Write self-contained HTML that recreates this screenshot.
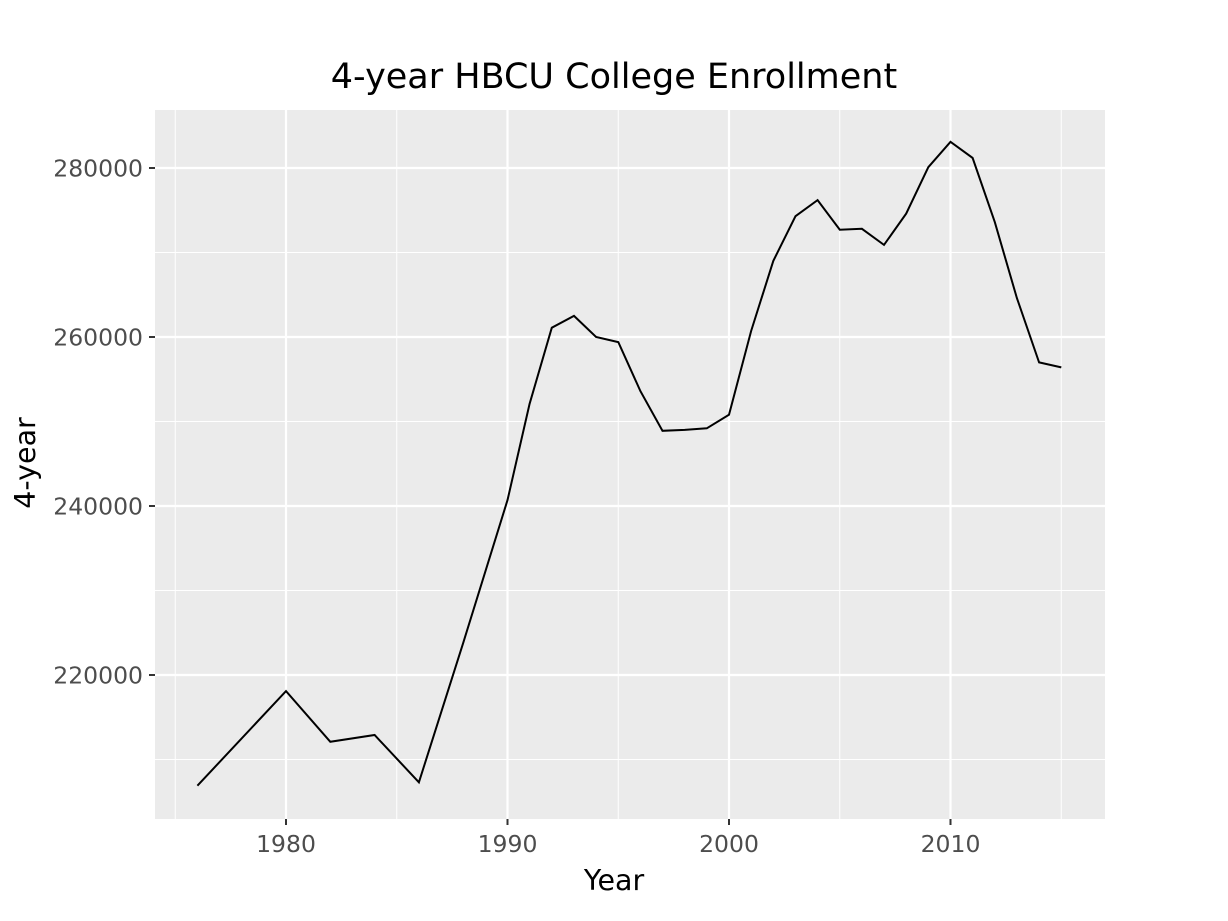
<!DOCTYPE html>
<html><head><meta charset="utf-8"><style>
body{margin:0;background:#fff}
svg{display:block;font-family:"DejaVu Sans","Liberation Sans",sans-serif}
</style></head><body>
<svg id="chart" width="1228" height="921">
<rect x="0" y="0" width="1228" height="921" fill="#fff"/>
<rect x="155" y="110" width="950" height="709" fill="#ebebeb"/>
<g id="grid"></g>
<path id="line" fill="none" stroke="#000" stroke-width="2"/>
<g id="axes"></g>
<text x="614" y="88" text-anchor="middle" font-size="35" fill="#000">4-year HBCU College Enrollment</text>
<text x="614" y="890" text-anchor="middle" font-size="28.5" fill="#000">Year</text>
<text transform="translate(35,463) rotate(-90)" text-anchor="middle" font-size="28.5" fill="#000">4-year</text>
</svg>
<script>
const years=[1976,1980,1982,1984,1986,1988,1990,1991,1992,1993,1994,1995,1996,1997,1998,1999,2000,2001,2002,2003,2004,2005,2006,2007,2008,2009,2010,2011,2012,2013,2014,2015];
const enrollment=[206900,218100,212100,212900,207300,223800,240700,252100,261100,262500,260000,259400,253600,248900,249000,249200,250800,260700,269000,274300,276200,272700,272800,270900,274600,280100,283100,281200,273600,264600,257000,256400];
const xTicks=[1980,1990,2000,2010];
const xMinor=[1975,1985,1995,2005,2015];
const yTicks=[220000,240000,260000,280000];
const yMinor=[210000,230000,250000,270000];
const NS="http://www.w3.org/2000/svg";
function xs(v){return 286+(v-1980)*22.15;}
function ys(v){return 168+(280000-v)*0.00845;}
const grid=document.getElementById('grid'),axes=document.getElementById('axes');
function mk(tag,attrs,parent){const e=document.createElementNS(NS,tag);for(const k in attrs)e.setAttribute(k,attrs[k]);parent.appendChild(e);return e;}
xMinor.forEach(v=>{const e=mk('line',{x1:xs(v),x2:xs(v),y1:110,y2:819,stroke:'#fff','stroke-width':1},grid);

});
yMinor.forEach(v=>{const e=mk('line',{x1:155,x2:1105,y1:ys(v),y2:ys(v),stroke:'#fff','stroke-width':1},grid);

});
xTicks.forEach(v=>{const e=mk('line',{x1:xs(v),x2:xs(v),y1:110,y2:819,stroke:'#fff','stroke-width':2.2},grid);


const t=mk('line',{x1:xs(v),x2:xs(v),y1:819,y2:825,stroke:'#333','stroke-width':2},axes);


const l=mk('text',{x:xs(v),y:852,'text-anchor':'middle','font-size':23.5,fill:'#4d4d4d'},axes);l.textContent=v;

});
yTicks.forEach(v=>{const e=mk('line',{x1:155,x2:1105,y1:ys(v),y2:ys(v),stroke:'#fff','stroke-width':2.2},grid);


const t=mk('line',{x1:149,x2:155,y1:ys(v),y2:ys(v),stroke:'#333','stroke-width':2},axes);


const l=mk('text',{x:143,y:ys(v)+8.5,'text-anchor':'end','font-size':23.5,fill:'#4d4d4d'},axes);l.textContent=v;

});
document.getElementById('line').setAttribute('d',years.map((y,i)=>(i?'L':'M')+xs(y).toFixed(1)+','+ys(enrollment[i]).toFixed(1)).join(''));
</script>
</body></html>
